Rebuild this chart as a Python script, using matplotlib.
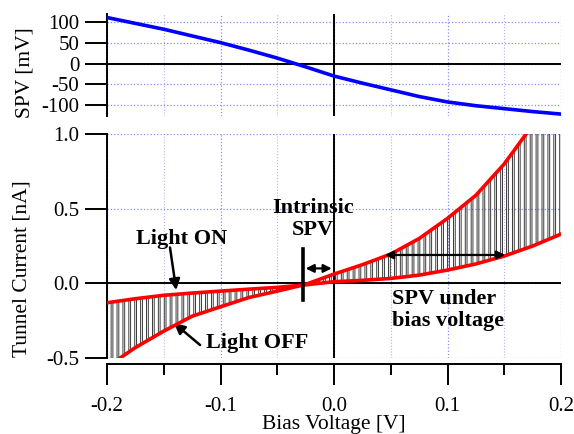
import matplotlib.pyplot as plt
import numpy as np
from matplotlib.ticker import MultipleLocator, FixedLocator

plt.rcParams['font.family'] = ['Liberation Serif', 'DejaVu Serif']
plt.rcParams['axes.unicode_minus'] = False

# bias voltage grid [V]
bias = np.array([-0.2, -0.175, -0.15, -0.125, -0.1, -0.075, -0.05, -0.025, 0.0,
                 0.025, 0.05, 0.075, 0.1, 0.125, 0.15, 0.175, 0.2])
# surface photovoltage [mV]
spv = np.array([110, 96, 82, 66, 50, 32, 13, -8, -30,
                -47, -63, -79, -92, -101, -108, -115, -121])
# tunnel current envelopes [nA]
light_on = np.array([-0.130, -0.103, -0.080, -0.065, -0.052, -0.039, -0.027, -0.010, 0.011,
                     0.020, 0.033, 0.055, 0.089, 0.130, 0.183, 0.250, 0.330])
light_off = np.array([-0.56, -0.43, -0.32, -0.22, -0.157, -0.095, -0.052, -0.007, 0.062,
                      0.125, 0.196, 0.300, 0.435, 0.590, 0.800, 1.06, 1.35])

chop_period = 0.0052
off_fraction = 0.3

grid_major = dict(color='#8c8cf0', linestyle=':', linewidth=0.9)
grid_minor = dict(color='#b4b4f4', linestyle=':', linewidth=0.8)

fig = plt.figure(figsize=(5.74, 4.34), dpi=100)
ax_top = fig.add_axes([0.1864, 0.7327, 0.791, 0.235])
ax = fig.add_axes([0.1864, 0.1751, 0.791, 0.5161])

# ---- top panel: SPV
ax_top.set_xlim(-0.2, 0.2)
ax_top.set_ylim(-125.6, 118.4)
ax_top.xaxis.set_major_locator(MultipleLocator(0.1))
ax_top.xaxis.set_minor_locator(MultipleLocator(0.05))
ax_top.set_yticks([-100, -50, 0, 50, 100])
ax_top.set_yticklabels(['-100', '-50', '0', '50', '100'])
ax_top.set_axisbelow(True)
ax_top.grid(which='major', axis='both', **grid_major)
ax_top.grid(which='minor', axis='x', **grid_minor)
ax_top.axhline(0, color='black', lw=1.4, zorder=2)
ax_top.axvline(0, color='black', lw=1.4, zorder=2)
ax_top.plot(bias, spv, color='#0000ff', lw=2.6, zorder=3)
for side in ['top', 'right', 'bottom']:
    ax_top.spines[side].set_visible(False)
ax_top.spines['left'].set_linewidth(1.4)
ax_top.tick_params(axis='x', which='both', bottom=False, labelbottom=False)
ax_top.tick_params(axis='y', direction='out', length=16, width=1.4, pad=4, labelsize=15)

# ---- bottom panel: tunnel current
ax.set_xlim(-0.2, 0.2)
ax.set_ylim(-0.5, 1.0)
ax.xaxis.set_major_locator(FixedLocator([-0.2, -0.1, 0.0, 0.1, 0.2]))
ax.xaxis.set_minor_locator(MultipleLocator(0.05))
ax.set_xticklabels(['-0.2', '-0.1', '0.0', '0.1', '0.2'])
ax.set_yticks([-0.5, 0.0, 0.5, 1.0])
ax.set_yticklabels(['-0.5', '0.0', '0.5', '1.0'])
ax.set_axisbelow(True)
ax.grid(which='major', axis='both', **grid_major)
ax.grid(which='minor', axis='x', **grid_minor)
ax.axhline(0, color='black', lw=1.4, zorder=2)
ax.axvline(0, color='black', lw=1.4, zorder=2)

# chopped-light trace switching between the two envelopes
starts = np.arange(bias[0], bias[-1], chop_period)
tx, ty = [], []
for s in starts:
    t1 = s + (1 - off_fraction) * chop_period
    t2 = s + chop_period
    tx += [s, t1, t1, t2]
    ty += [np.interp(s, bias, light_on), np.interp(t1, bias, light_on),
           np.interp(t1, bias, light_off), np.interp(t2, bias, light_off)]
ax.plot(tx, ty, color='#2a2a2a', lw=0.65, zorder=3)

ax.plot(bias, light_on, color='#ff0000', lw=2.6, zorder=4)
ax.plot(bias, light_off, color='#ff0000', lw=2.6, zorder=4)

for side in ['top', 'right']:
    ax.spines[side].set_visible(False)
ax.spines['left'].set_linewidth(1.4)
ax.spines['bottom'].set_linewidth(1.4)
ax.spines['bottom'].set_position(('outward', 4))
ax.tick_params(axis='y', direction='out', length=16, width=1.4, pad=4, labelsize=15)
ax.tick_params(axis='x', which='major', direction='out', length=15, width=1.4, pad=9, labelsize=15)
ax.tick_params(axis='x', which='minor', direction='out', length=8, width=1.4)

# annotations
bold = dict(fontsize=16, fontweight='bold')
arrow = dict(arrowstyle='-|>', color='black', lw=1.8, mutation_scale=16, shrinkA=0, shrinkB=0)
ax.text(-0.134, 0.297, 'Light ON', ha='center', va='center', **bold)
ax.annotate('', xy=(-0.139, -0.045), xytext=(-0.1445, 0.24), arrowprops=arrow)
ax.text(-0.068, -0.40, 'Light OFF', ha='center', va='center', **bold)
ax.annotate('', xy=(-0.141, -0.266), xytext=(-0.118, -0.413), arrowprops=arrow)
ax.text(-0.0185, 0.43, 'Intrinsic\nSPV', ha='center', va='center', linespacing=1.1, **bold)
ax.plot([-0.0273, -0.0273], [-0.112, 0.23], color='black', lw=2.6, zorder=5)
dbl = dict(arrowstyle='<|-|>', color='black', lw=1.6, mutation_scale=12, shrinkA=0, shrinkB=0)
ax.annotate('', xy=(-0.002, 0.10), xytext=(-0.025, 0.10), arrowprops=dbl)
ax.annotate('', xy=(0.1507, 0.19), xytext=(0.045, 0.19), arrowprops=dbl, zorder=5)
ax.text(0.0508, -0.04, 'SPV under\nbias voltage', ha='left', va='top', linespacing=1.1, **bold)

# axis labels
fig.text(25 / 574, 1 - 73 / 434, 'SPV [mV]', rotation=90, ha='center', va='center', fontsize=15.5)
fig.text(22.5 / 574, 1 - 269 / 434, 'Tunnel Current [nA]', rotation=90, ha='center', va='center', fontsize=15.5)
fig.text(334 / 574, 1 - 429 / 434, 'Bias Voltage [V]', ha='center', va='baseline', fontsize=15.5)

fig.savefig('out.png', dpi=100)
